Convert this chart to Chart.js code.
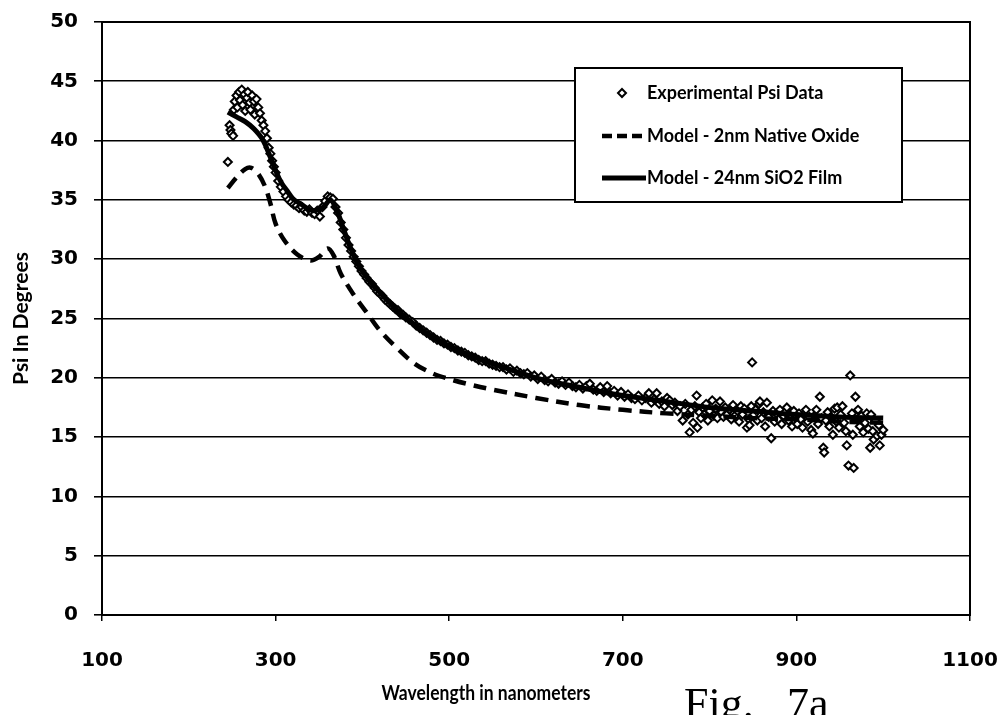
<!DOCTYPE html>
<html><head><meta charset="utf-8">
<script src="https://cdn.jsdelivr.net/npm/chart.js@4/dist/chart.umd.min.js"></script>
<style>html,body{margin:0;padding:0;background:#fff;overflow:hidden}#wrap{position:relative;width:1004px;height:715px}canvas{display:block}</style>
</head><body><div id="wrap"><canvas id="c" width="1004" height="715" style="width:1004px;height:715px"></canvas></div>
<script>
// ---- data ----
const expX = [245,247,248,249,251,252,253,255,256,258,259,261,262,264,265,267,268,270,271,273,275,276,278,280,282,284,286,288,290,292,294,296,298,300,
303,306,309,312,315,318,321,324,327,330,333,336,339,342,345,348,351,354,357,360,363,366,369,372,375,378,381,384,387,390,393,396,399,
402,405,408,411,414,417,420,423,426,429,432,435,438,441,444,447,450,454,458,462,466,470,474,478,482,486,490,494,498,
502,506,510,514,518,522,526,530,534,538,542,546,550,554,558,562,566,570,574,578,582,586,590,594,598,
602,606,610,614,618,622,626,630,634,638,642,646,650,654,658,662,666,670,674,678,682,686,690,694,698,
702,706,710,714,718,722,726,730,733,736,739,742,745,748,751,754,757,760,763,766,769,772,775,777,779,781,783,785,786,788,790,792,794,796,798,
800,803,805,807,809,812,814,816,818,820,823,825,827,829,832,834,836,838,840,843,845,846,848,849,851,853,855,857,858,860,862,864,866,868,871,873,875,877,879,881,883,885,887,889,891,893,895,897,899,
901,903,905,907,909,911,913,915,917,919,921,923,925,927,929,931,932,934,936,938,940,942,944,946,947,949,951,953,955,957,958,960,962,964,965,966,968,970,971,973,975,977,979,981,983,985,986,988,989,991,993,995,996,998,1000];
const expY = [38.2,41.3,40.9,40.6,40.4,42.6,43.3,43.8,42.8,44.1,43.4,44.3,43.0,43.9,42.5,43.6,44.1,43.2,42.6,43.8,43.3,42.2,43.5,42.8,42.3,41.7,41.3,40.8,40.2,39.4,38.9,38.3,37.8,37.3,
36.6,36.1,35.7,35.3,35.0,34.8,34.6,34.5,34.3,34.4,34.1,34.0,34.2,33.9,33.8,34.1,33.6,34.4,34.9,35.3,35.2,35.1,34.4,33.9,33.1,32.5,31.8,31.2,30.7,30.2,29.8,29.4,29.0,
28.7,28.4,28.1,27.9,27.6,27.3,27.1,26.9,26.6,26.4,26.2,26.0,25.8,25.7,25.4,25.3,25.1,24.9,24.7,24.4,24.2,24.0,23.8,23.6,23.4,23.2,23.1,22.9,22.8,
22.6,22.5,22.3,22.2,22.1,21.9,21.8,21.7,21.5,21.4,21.4,21.2,21.1,21.0,20.9,20.9,20.7,20.8,20.5,20.6,20.4,20.3,20.4,20.1,20.2,
19.9,20.1,19.8,19.7,19.9,19.6,19.5,19.7,19.4,19.6,19.3,19.2,19.4,19.1,19.3,19.5,19.0,18.9,19.2,18.8,19.3,18.7,18.9,18.5,18.8,
18.4,18.6,18.3,18.2,18.5,18.1,18.3,18.7,17.9,18.2,18.7,17.8,18.0,17.6,18.3,18.1,17.7,17.9,17.2,17.6,16.4,17.8,16.9,15.4,17.3,16.2,17.6,18.5,15.8,17.1,16.6,17.5,16.9,17.8,16.4,
17.2,18.1,16.8,17.4,16.6,18.0,17.1,16.7,17.5,16.9,17.3,16.5,17.7,16.8,17.2,16.3,17.6,16.9,17.4,15.8,16.5,16.0,17.6,21.3,16.9,17.3,16.4,17.8,18.0,16.6,17.1,15.9,17.9,16.7,14.9,17.2,16.3,17.0,16.5,17.3,16.1,16.8,17.1,17.5,16.4,16.9,15.9,17.2,16.6,
16.1,17.0,16.5,15.8,16.9,17.3,16.3,16.7,15.6,15.3,16.8,17.3,16.1,18.4,16.6,14.1,13.7,16.4,17.1,15.9,16.7,15.2,17.4,16.3,17.5,15.8,16.9,17.6,16.2,15.5,14.3,12.6,20.2,17.0,15.2,12.4,18.4,16.5,17.3,15.9,16.8,15.4,16.2,17.0,15.7,14.1,16.9,15.5,14.8,16.4,15.1,16.0,14.3,15.2,15.6];

const oxideX = [245,255,265,272,280,288,294,300,310,325,340,350,360,367,375,390,405,420,440,460,480,500,520,550,600,650,700,750,800,850,900,950,1000];
const oxideY = [36.0,36.9,37.6,37.7,37.2,36.1,34.7,33.0,31.6,30.4,29.9,30.2,30.9,30.3,28.8,27.0,25.5,24.0,22.5,21.2,20.4,19.9,19.5,19.0,18.3,17.7,17.3,17.0,16.8,16.6,16.5,16.3,16.2];

const filmX = [245,255,265,275,285,294,301,307,313,320,328,343,355,363,370,378,386,397,410,420,440,460,480,500,520,550,600,650,700,750,800,850,900,950,1000];
const filmY = [42.4,42.0,41.6,41.0,40.1,38.6,37.3,36.4,35.8,35.1,34.7,34.1,34.4,35.0,34.2,32.6,31.0,29.3,28.0,27.2,25.7,24.5,23.5,22.7,22.0,21.2,20.0,19.2,18.5,18.0,17.5,17.2,16.9,16.7,16.6];

const xTicks = [100,300,500,700,900,1100];
const yTicks = [0,5,10,15,20,25,30,35,40,45,50];
const seriesNames = ['Experimental Psi Data','Model - 2nm Native Oxide','Model - 24nm SiO2 Film'];
const xTitle = 'Wavelength in nanometers';
const yTitle = 'Psi In Degrees';
const figText = ['Fig.', '7a'];

// ---- helpers ----
function toPts(xs, ys){ return xs.map((x,i)=>({x:x, y:ys[i]})); }
// draw text in a given font size, squeezed horizontally to a target width (Calibri-like narrow look)
function narrowText(ctx, text, x, y, size, targetW, align){
  ctx.font = 'bold ' + size + 'px Lato';
  const w = ctx.measureText(text).width;
  const k = Math.min(1, targetW / w);
  ctx.save();
  ctx.translate(x, y);
  ctx.scale(k, 1);
  ctx.textAlign = align;
  ctx.fillText(text, 0, 0);
  ctx.restore();
}

const framePlugin = {
  id:'frame',
  afterDraw(chart){
    const ctx = chart.ctx, a = chart.chartArea;
    ctx.save();
    // plot border
    ctx.strokeStyle = '#000'; ctx.lineWidth = 2;
    ctx.strokeRect(a.left, a.top, a.right - a.left, a.bottom - a.top);

    // legend box
    const lx = 575, ly = 68, lw = 327, lh = 134;
    ctx.fillStyle = '#fff';
    ctx.fillRect(lx, ly, lw, lh);
    ctx.lineWidth = 2; ctx.strokeStyle = '#000';
    ctx.strokeRect(lx, ly, lw, lh);
    const rows = [93, 136, 178];
    const tx = 647;
    const targetW = [189, 229, 211];
    ctx.fillStyle = '#000';
    ctx.textBaseline = 'middle';
    for (let i=0;i<3;i++) narrowText(ctx, seriesNames[i], tx, rows[i], 18, targetW[i], 'left');
    // marker
    ctx.beginPath();
    ctx.moveTo(622, rows[0]-4); ctx.lineTo(626, rows[0]); ctx.lineTo(622, rows[0]+4); ctx.lineTo(618, rows[0]); ctx.closePath();
    ctx.fillStyle = '#fff'; ctx.fill(); ctx.lineWidth = 2; ctx.strokeStyle = '#000'; ctx.stroke();
    // dashed sample
    ctx.beginPath(); ctx.setLineDash([10,5]); ctx.lineWidth = 4.5;
    ctx.moveTo(602, rows[1]); ctx.lineTo(646, rows[1]); ctx.stroke();
    ctx.setLineDash([]);
    ctx.beginPath(); ctx.lineWidth = 5;
    ctx.moveTo(602, rows[2]); ctx.lineTo(646, rows[2]); ctx.stroke();

    // axis titles
    ctx.fillStyle = '#000';
    ctx.textBaseline = 'middle';
    narrowText(ctx, xTitle, 486, 694, 20, 209, 'center');
    ctx.save();
    ctx.translate(21, (a.top + a.bottom)/2);
    ctx.rotate(-Math.PI/2);
    narrowText(ctx, yTitle, 0, 0, 21, 145, 'center');
    ctx.restore();

    // figure label
    ctx.fillStyle = '#000';
    ctx.font = '44px "Liberation Serif"';
    ctx.textAlign = 'left'; ctx.textBaseline = 'alphabetic';
    ctx.fillText(figText[0], 684, 718);
    ctx.fillText(figText[1], 787, 718);
    ctx.restore();
  }
};

new Chart(document.getElementById('c'), {
  type: 'scatter',
  data: {
    datasets: [
      { label: seriesNames[2], data: toPts(filmX, filmY), showLine: true, borderColor:'#000', borderWidth: 5,
        pointRadius: 0, tension: 0.35, order: 0 },
      { label: seriesNames[1], data: toPts(oxideX, oxideY), showLine: true, borderColor:'#000', borderWidth: 4.5,
        borderDash: [13,8], pointRadius: 0, tension: 0.35, order: 1 },
      { label: seriesNames[0], data: toPts(expX, expY), showLine: false, pointStyle: 'rectRot', pointRadius: 4,
        pointBorderWidth: 2, pointBackgroundColor: '#fff', pointBorderColor: '#000', order: 2 }
    ]
  },
  options: {
    responsive: false, animation: false, devicePixelRatio: 1,
    layout: { padding: { left: 0, top: 22, right: 34, bottom: 0 } },
    plugins: { legend: { display: false }, tooltip: { enabled: false } },
    scales: {
      x: {
        type: 'linear', min: 100, max: 1100,
        afterBuildTicks(s){ s.ticks = xTicks.map(v => ({ value: v })); },
        afterFit(s){ s.height = 100; s.paddingLeft = 0; s.paddingRight = 0; },
        grid: { drawOnChartArea: false, drawTicks: true, tickLength: 6, color: '#000', lineWidth: 1.5 },
        border: { display: true, color: '#000', width: 2 },
        ticks: { color: '#000', font: { family: 'DejaVu Sans', weight: 'bold', size: 20 }, padding: 28, maxRotation: 0, autoSkip: false,
                 callback: v => String(v) }
      },
      y: {
        type: 'linear', min: 0, max: 50,
        afterBuildTicks(s){ s.ticks = yTicks.map(v => ({ value: v })); },
        afterFit(s){ s.width = 102; s.paddingTop = 0; s.paddingBottom = 0; },
        grid: { drawOnChartArea: true, drawTicks: true, tickLength: 8, color: '#000', lineWidth: 1.6 },
        border: { display: true, color: '#000', width: 2 },
        ticks: { color: '#000', font: { family: 'DejaVu Sans', weight: 'bold', size: 20 }, padding: 16, callback: v => String(v) }
      }
    }
  },
  plugins: [framePlugin]
});
</script>
</body></html>
